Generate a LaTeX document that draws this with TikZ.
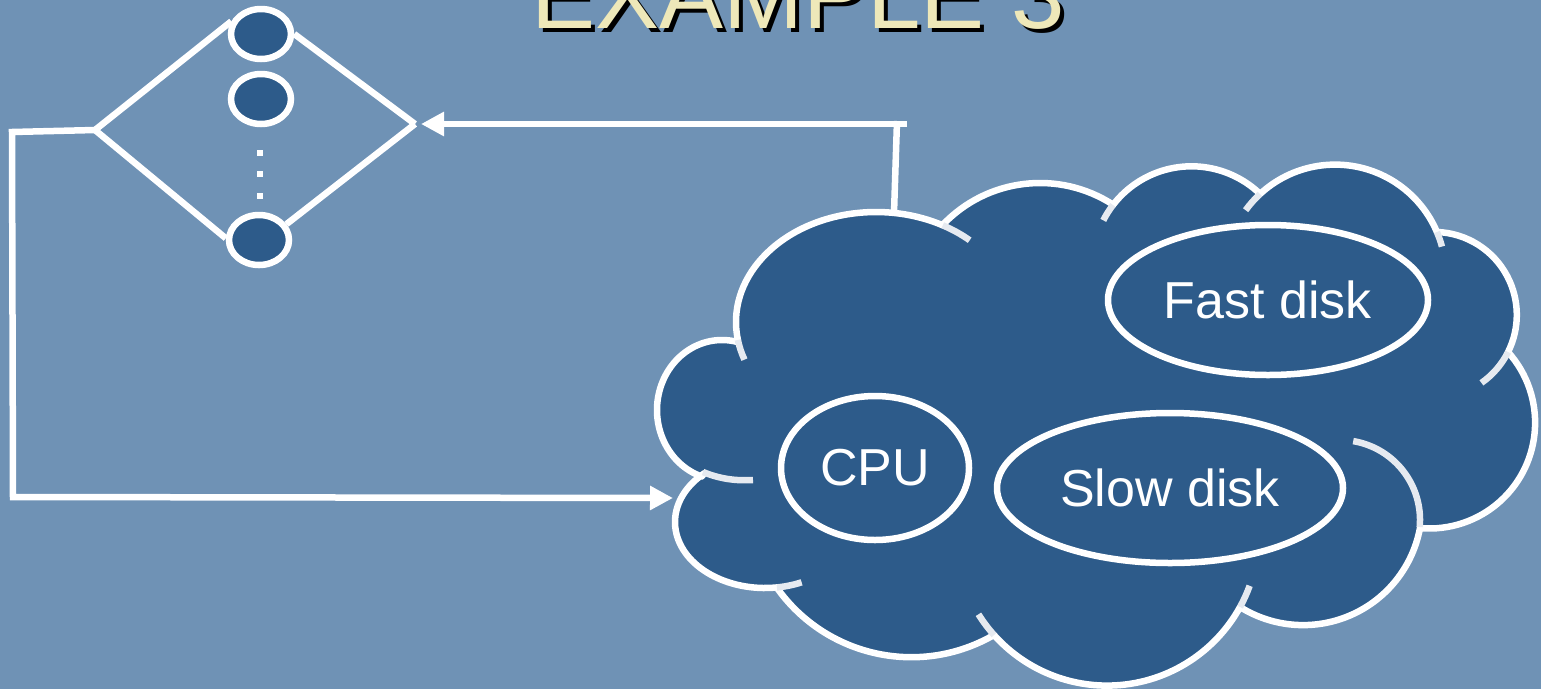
\documentclass[tikz,border=0pt]{standalone}
\usepackage{fontspec}
\setmainfont{Liberation Sans}
\usetikzlibrary{arrows.meta,shapes.geometric,calc}

\definecolor{bg}{RGB}{111,146,181}
\definecolor{dark}{RGB}{45,91,138}
\definecolor{cream}{RGB}{238,232,185}
\definecolor{creasegray}{RGB}{230,234,240}

\begin{document}
\begin{tikzpicture}[x=1pt,y=-1pt,
  wire/.style={white,line width=6.5pt},
  tip/.style={-{Triangle[length=23pt,width=23pt]}},
  server/.style={ellipse,draw=white,fill=dark,line width=6.5pt,
                 minimum width=60,minimum height=50,inner sep=0},
  dot/.style={rectangle,fill=white,minimum size=6,inner sep=0},
  disk/.style={ellipse,draw=white,fill=dark,line width=6.5pt,inner sep=0,
               text=white,font=\fontsize{52}{60}\selectfont},
  cloudbody/.style={fill=dark,draw=white,line width=6.5pt,line join=round},
  crease/.style={draw=creasegray,line width=6.5pt},
  titletext/.style={anchor=base,inner sep=0,font=\fontsize{96}{100}\selectfont}]

% canvas
\path[use as bounding box] (0,0) rectangle (1541,689);
\clip (0,0) rectangle (1541,689);
\fill[bg] (0,0) rectangle (1541,689);

% heading with drop shadow
\node[titletext,text=black] (titleshadow) at (802,32) {EXAMPLE 3};
\node[titletext,text=cream] (title) at (798,28) {EXAMPLE 3};

% the cloud: one elliptic arc per lobe, clockwise from the upper left
\filldraw[cloudbody]
  ($(876,322)+(170.6:140 and 110)$) arc[start angle=170.6,end angle=298.5,x radius=140,y radius=110]
  -- ($(1040,317)+(223.5:134)$) arc[start angle=223.5,end angle=303.1,radius=134]
  -- ($(1191.5,265.3)+(217.5:99)$) arc[start angle=217.5,end angle=313.9,radius=99]
  -- ($(1335.1,275.2)+(227.2:110.6)$) arc[start angle=227.2,end angle=337,radius=110.6]
  -- ($(1433.8,314.9)+(272.2:83)$) arc[start angle=272.2,end angle=386.6,radius=83]
  -- ($(1429.3,422.7)+(-41.9:105.8)$) arc[start angle=-41.9,end angle=95,radius=105.8]
  -- ($(1303.1,506.2)+(10.6:118.9)$) arc[start angle=10.6,end angle=122,radius=118.9]
  -- ($(1107.1,533.9)+(28.8:151.7)$) arc[start angle=28.8,end angle=138.2,radius=151.7]
  -- ($(911.3,492.4)+(59.9:164.8)$) arc[start angle=59.9,end angle=144.6,radius=164.8]
  -- ($(765,522)+(82.4:90 and 66)$) arc[start angle=82.4,end angle=227.7,x radius=90,y radius=66]
  -- ($(722,410)+(108.2:65 and 70)$) arc[start angle=108.2,end angle=283.8,x radius=65,y radius=70]
  -- cycle;

% inner fold lines of the cloud
\draw[crease] ($(876,322)+(160:140 and 110)$) arc[start angle=160,end angle=170.6,x radius=140,y radius=110];
\draw[crease] ($(876,322)+(298.5:140 and 110)$) arc[start angle=298.5,end angle=312,x radius=140,y radius=110];
\draw[crease] ($(1191.5,265.3)+(207:99)$) arc[start angle=207,end angle=217.5,radius=99];
\draw[crease] ($(1335.1,275.2)+(216:110.6)$) arc[start angle=216,end angle=227.2,radius=110.6];
\draw[crease] ($(1335.1,275.2)+(337:110.6)$) arc[start angle=337,end angle=345,radius=110.6];
\draw[crease] ($(1433.8,314.9)+(26.6:83)$) arc[start angle=26.6,end angle=55,radius=83];
\draw[crease] ($(1340,520)+(-80.5:80)$) arc[start angle=-80.5,end angle=5,radius=80];
\draw[crease] ($(1107.1,533.9)+(20:151.7)$) arc[start angle=20,end angle=28.8,radius=151.7];
\draw[crease] ($(1107.1,533.9)+(138.2:151.7)$) arc[start angle=138.2,end angle=148,radius=151.7];
\draw[crease] ($(765,522)+(66:90 and 66)$) arc[start angle=66,end angle=82.4,x radius=90,y radius=66];
\draw[crease] (703,472) .. controls (720,479) and (736,481) .. (753,480);

% components inside the cloud
\node[disk,minimum width=188,minimum height=144] (cpu) at (875,468) {CPU};
\node[disk,minimum width=320,minimum height=150] (fast) at (1268,300) {Fast disk};
\node[disk,minimum width=346,minimum height=150] (slow) at (1170,488) {Slow disk};

% parallel servers
\node[server] (s1) at (261,34) {};
\node[server] (s2) at (261,99) {};
\node[server] (sn) at (259,240) {};
\node[dot] (d1) at (260,153) {};
\node[dot] (d2) at (260,174) {};
\node[dot] (d3) at (260,196) {};

\coordinate (split) at (95,130);
\coordinate (join) at (415,124);
\draw[wire] (split) -- (s1.157);
\draw[wire] (split) -- (sn.177);
\draw[wire] (s1.east) -- (join);
\draw[wire] (sn.30) -- (join);

% loop from the split point back into the cloud
\coordinate (fbTop) at (12,132);
\coordinate (fbBottom) at (13,497);
\coordinate (cloudIn) at (673,498);
\draw[wire,tip] (split) -- (fbTop) -- (fbBottom) -- (cloudIn);

% from the cloud up to the join point
\coordinate (cloudTop) at (894,213);
\coordinate (upCorner) at (897,121);
\coordinate (upEnd) at (907,124);
\coordinate (joinIn) at (421,124);
\draw[wire] (cloudTop) -- (upCorner);
\draw[wire,tip] (upEnd) -- (joinIn);
\end{tikzpicture}
\end{document}
